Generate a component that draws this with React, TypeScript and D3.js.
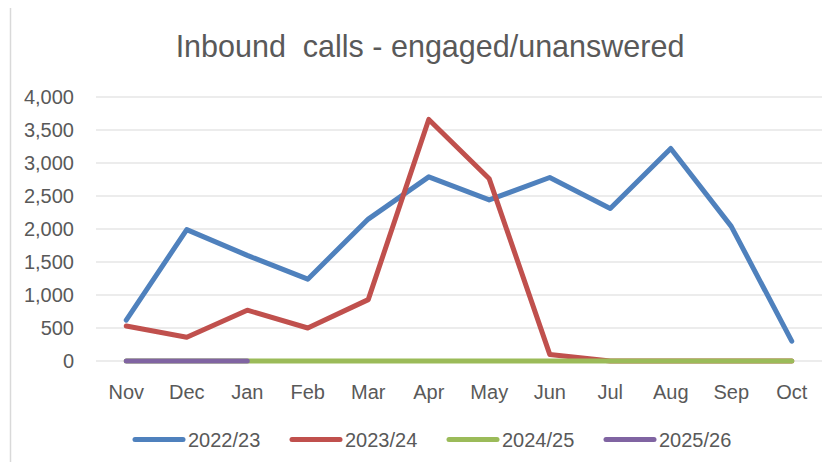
import React, { useEffect, useRef } from "react";
import * as d3 from "d3";

const months = ["Nov", "Dec", "Jan", "Feb", "Mar", "Apr", "May", "Jun", "Jul", "Aug", "Sep", "Oct"];
const seriesNames = ["2022/23", "2023/24", "2024/25", "2025/26"];
const values2223 = [620, 1990, 1600, 1240, 2150, 2790, 2440, 2780, 2310, 3220, 2040, 300];
const values2324 = [530, 360, 770, 500, 930, 3660, 2760, 100, 0, 0, 0, 0];
const values2425 = [0, 0, 0, 0, 0, 0, 0, 0, 0, 0, 0, 0];
const values2526 = [0, 0, 0];
const colors = ["#4f81bd", "#c0504d", "#9bbb59", "#8064a2"];
const yTicks = [0, 500, 1000, 1500, 2000, 2500, 3000, 3500, 4000];

const App = () => {
  const ref = useRef<SVGSVGElement>(null);

  useEffect(() => {
    const svg = d3.select(ref.current);
    svg.selectAll("*").remove();
    const font = "'Liberation Sans', Arial, sans-serif";
    const textColor = "#595959";

    // chart frame (only top and left edges visible in the crop)
    svg.append("rect")
      .attr("x", 10.5).attr("y", 6.5).attr("width", 900).attr("height", 600)
      .attr("fill", "#fff").attr("stroke", "#d9d9d9").attr("stroke-width", 1.5);

    svg.append("text")
      .attr("x", 430).attr("y", 57)
      .attr("text-anchor", "middle")
      .attr("font-family", font).attr("font-size", 30.5)
      .attr("fill", textColor)
      .attr("xml:space", "preserve")
      .text("Inbound  calls - engaged/unanswered");

    const x = d3.scaleBand().domain(months).range([96, 822]);
    const y = d3.scaleLinear().domain([0, 4000]).range([361, 97]);
    const cx = (m: string) => (x(m) as number) + x.bandwidth() / 2;

    svg.append("g").selectAll("line").data(yTicks).enter().append("line")
      .attr("x1", 96).attr("x2", 822)
      .attr("y1", (d) => y(d)).attr("y2", (d) => y(d))
      .attr("stroke", "#d9d9d9").attr("stroke-width", 1.2);

    svg.append("g").selectAll("text").data(yTicks).enter().append("text")
      .attr("x", 74).attr("y", (d) => y(d) + 7)
      .attr("text-anchor", "end")
      .attr("font-family", font).attr("font-size", 20).attr("fill", textColor)
      .text((d) => d3.format(",")(d));

    svg.append("g").selectAll("text").data(months).enter().append("text")
      .attr("x", (d) => cx(d)).attr("y", 399)
      .attr("text-anchor", "middle")
      .attr("font-family", font).attr("font-size", 20).attr("fill", textColor)
      .text((d) => d);

    const allSeries = [values2223, values2324, values2425, values2526];
    const line = d3.line<number>()
      .x((_, i) => cx(months[i]))
      .y((d) => y(d));

    allSeries.forEach((vals, i) => {
      svg.append("path")
        .datum(vals)
        .attr("d", line)
        .attr("fill", "none")
        .attr("stroke", colors[i])
        .attr("stroke-width", 5)
        .attr("stroke-linejoin", "round")
        .attr("stroke-linecap", "round");
    });

    const legend = svg.append("g");
    seriesNames.forEach((name, i) => {
      const lx = 135 + i * 157;
      legend.append("line")
        .attr("x1", lx).attr("x2", lx + 48)
        .attr("y1", 439.5).attr("y2", 439.5)
        .attr("stroke", colors[i]).attr("stroke-width", 5)
        .attr("stroke-linecap", "round");
      legend.append("text")
        .attr("x", lx + 53).attr("y", 447)
        .attr("font-family", font).attr("font-size", 20).attr("fill", textColor)
        .text(name);
    });
  }, []);

  return <svg ref={ref} width={830} height={470} style={{ display: "block", margin: -8 }} />;
};

export default App;
